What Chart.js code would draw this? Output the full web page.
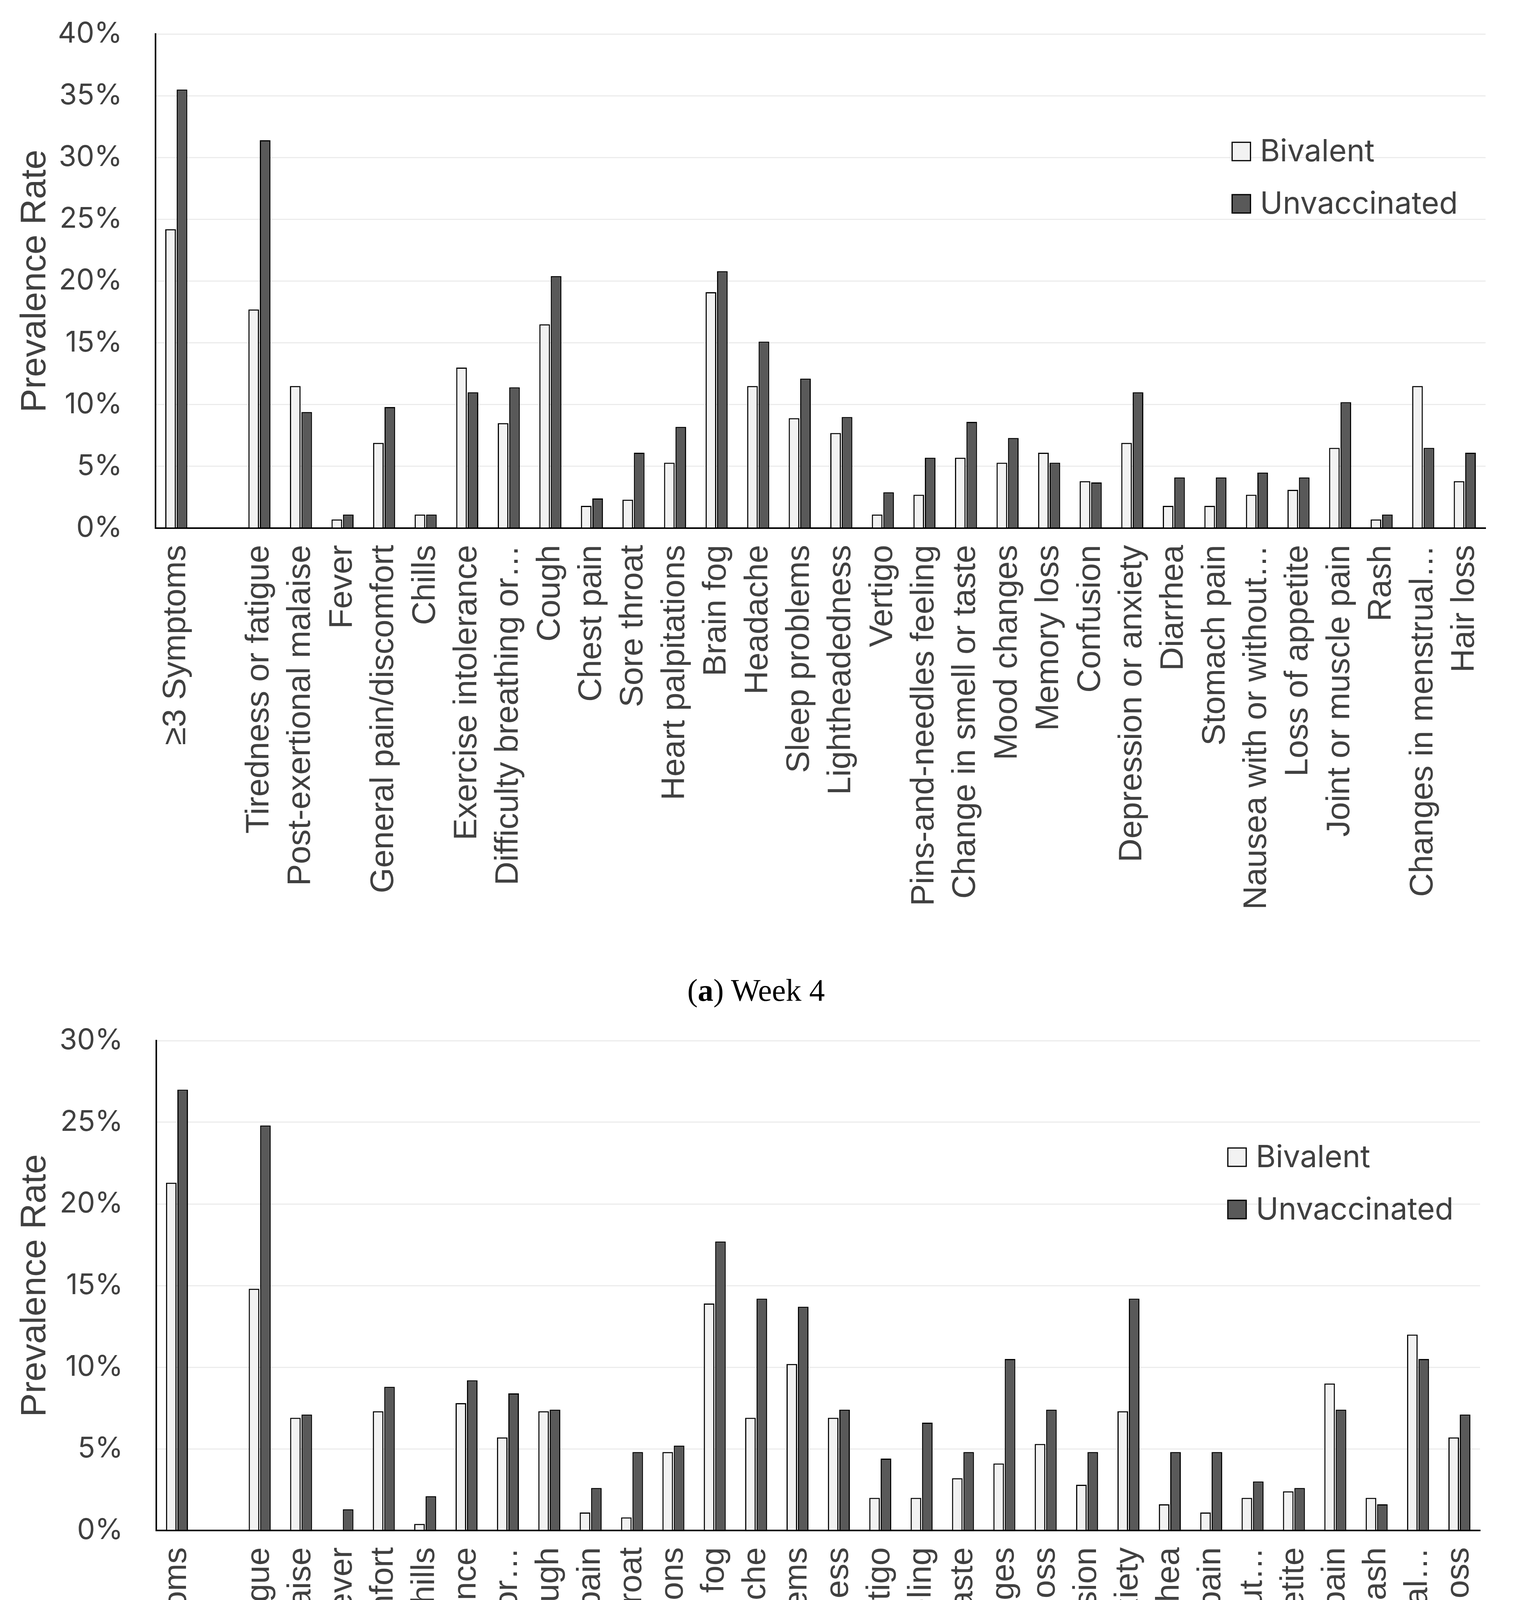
<!DOCTYPE html>
<html>
<head>
<meta charset="utf-8">
<title>Prevalence Rate - Bivalent x Unvaccinated</title>
<script src="https://cdn.jsdelivr.net/npm/chart.js@4.4.0/dist/chart.umd.min.js"></script>
<style>
    html, body { margin: 0; padding: 0; background: #ffffff; }
    body { width: 3885px; height: 5160px; position: relative; overflow: hidden; }
    .painel { position: absolute; left: 0; width: 3885px; height: 2420px; }
    #painel-a { top: 0; }
    #painel-b { top: 2580px; }
    .legenda-fig {
        position: absolute; left: 0; width: 3870px; text-align: center;
        font-family: "Liberation Serif", "DejaVu Serif", serif; font-size: 80px; line-height: 80px; color: #000;
        z-index: 2;
    }
</style>
</head>
<body>

<div class="painel" id="painel-a"><canvas id="grafico-semana4"></canvas></div>
<div class="legenda-fig" style="top: 2495px;">(<b>a</b>) Week 4</div>

<div class="painel" id="painel-b"><canvas id="grafico-mes3"></canvas></div>
<div class="legenda-fig" style="top: 5047px;">(<b>b</b>) Month 3</div>

<script>
// Categorias (a segunda posição fica vazia, como no original)
const sintomas = [
    '≥3 Symptoms', '', 'Tiredness or fatigue', 'Post-exertional malaise', 'Fever',
    'General pain/discomfort', 'Chills', 'Exercise intolerance', 'Difficulty breathing or…',
    'Cough', 'Chest pain', 'Sore throat', 'Heart palpitations', 'Brain fog', 'Headache',
    'Sleep problems', 'Lightheadedness', 'Vertigo', 'Pins-and-needles feeling',
    'Change in smell or taste', 'Mood changes', 'Memory loss', 'Confusion',
    'Depression or anxiety', 'Diarrhea', 'Stomach pain', 'Nausea with or without…',
    'Loss of appetite', 'Joint or muscle pain', 'Rash', 'Changes in menstrual…', 'Hair loss'
];

const nomesSeries = ['Bivalent', 'Unvaccinated'];

// Semana 4 (%)
const bivalenteSemana4 = [24.2, null, 17.7, 11.5, 0.7, 6.9, 1.1, 13.0, 8.5, 16.5, 1.8, 2.3, 5.3, 19.1, 11.5, 8.9,
    7.7, 1.1, 2.7, 5.7, 5.3, 6.1, 3.8, 6.9, 1.8, 1.8, 2.7, 3.1, 6.5, 0.7, 11.5, 3.8];
const naoVacinadoSemana4 = [35.5, null, 31.4, 9.4, 1.1, 9.8, 1.1, 11.0, 11.4, 20.4, 2.4, 6.1, 8.2, 20.8, 15.1, 12.1,
    9.0, 2.9, 5.7, 8.6, 7.3, 5.3, 3.7, 11.0, 4.1, 4.1, 4.5, 4.1, 10.2, 1.1, 6.5, 6.1];

// Mês 3 (%)
const bivalenteMes3 = [21.3, null, 14.8, 6.9, 0, 7.3, 0.4, 7.8, 5.7, 7.3, 1.1, 0.8, 4.8, 13.9, 6.9, 10.2,
    6.9, 2.0, 2.0, 3.2, 4.1, 5.3, 2.8, 7.3, 1.6, 1.1, 2.0, 2.4, 9.0, 2.0, 12.0, 5.7];
const naoVacinadoMes3 = [27.0, null, 24.8, 7.1, 1.3, 8.8, 2.1, 9.2, 8.4, 7.4, 2.6, 4.8, 5.2, 17.7, 14.2, 13.7,
    7.4, 4.4, 6.6, 4.8, 10.5, 7.4, 4.8, 14.2, 4.8, 4.8, 3.0, 2.6, 7.4, 1.6, 10.5, 7.1];

// Escalas do eixo Y
const maxSemana4 = 40;
const maxMes3 = 30;
const passoY = 5;

let chartsInstances = {};

// Legenda desenhada dentro da área do gráfico (canto superior direito)
const legendaInterna = {
    id: 'legendaInterna',
    afterDraw(chart, args, opts) {
        const { ctx, chartArea } = chart;
        const x = chartArea.left + chartArea.width * opts.posX;
        let y = chartArea.top + chartArea.height * opts.posY;
        ctx.save();
        ctx.font = opts.fonte;
        ctx.textBaseline = 'middle';
        ctx.textAlign = 'left';
        chart.data.datasets.forEach(ds => {
            ctx.fillStyle = ds.backgroundColor;
            ctx.fillRect(x, y, opts.caixa, opts.caixa);
            ctx.lineWidth = 3;
            ctx.strokeStyle = ds.borderColor;
            ctx.strokeRect(x + 1.5, y + 1.5, opts.caixa - 3, opts.caixa - 3);
            ctx.fillStyle = opts.cor;
            ctx.fillText(ds.label, x + opts.caixa + opts.espaco, y + opts.caixa / 2 + 2);
            y += opts.entreLinhas;
        });
        ctx.restore();
    }
};

function criarGrafico(id, chave, bivalente, naoVacinado, maxY, geo) {
    const ctx = document.getElementById(id).getContext('2d');

    if (chartsInstances[chave]) {
        chartsInstances[chave].destroy();
    }

    chartsInstances[chave] = new Chart(ctx, {
        type: 'bar',
        data: {
            labels: sintomas,
            datasets: [{
                label: nomesSeries[0],
                data: bivalente,
                backgroundColor: '#f2f2f2',
                borderColor: '#000000',
                borderWidth: 3
            }, {
                label: nomesSeries[1],
                data: naoVacinado,
                backgroundColor: '#595959',
                borderColor: '#000000',
                borderWidth: 3
            }]
        },
        options: {
            responsive: true,
            maintainAspectRatio: false,
            devicePixelRatio: 1,
            animation: false,
            categoryPercentage: 0.55,
            barPercentage: 0.93,
            layout: {
                padding: { top: geo.topo, right: geo.direita, left: 0, bottom: 0 }
            },
            plugins: {
                legend: { display: false },
                tooltip: { enabled: false },
                legendaInterna: {
                    posX: 0.809,
                    posY: 0.218,
                    caixa: 50,
                    espaco: 23,
                    entreLinhas: 134,
                    fonte: '78px Inter, "Liberation Sans", sans-serif',
                    cor: '#404040'
                }
            },
            scales: {
                x: {
                    grid: { display: false, drawTicks: false },
                    border: { display: true, color: '#000000', width: 4 },
                    ticks: {
                        autoSkip: false,
                        minRotation: 90,
                        maxRotation: 90,
                        padding: 43,
                        color: '#404040',
                        font: { family: '"Liberation Sans", Arial, sans-serif', size: 84 }
                    },
                    afterFit: function(scale) {
                        scale.height = geo.alturaEixoX;
                        scale.paddingLeft = 0;
                        scale.paddingRight = 0;
                    }
                },
                y: {
                    min: 0,
                    max: maxY,
                    grid: { color: '#ececec', lineWidth: 3, drawTicks: false },
                    border: { display: true, color: '#000000', width: 4 },
                    ticks: {
                        stepSize: passoY,
                        padding: 85,
                        color: '#404040',
                        font: { family: 'Inter, "Liberation Sans", sans-serif', size: 73 },
                        callback: function(valor) {
                            return valor + '%';
                        }
                    },
                    title: {
                        display: true,
                        text: 'Prevalence Rate',
                        color: '#404040',
                        padding: { top: 36, bottom: 0 },
                        font: { family: '"Liberation Sans", Arial, sans-serif', size: 91 }
                    },
                    afterFit: function(scale) {
                        scale.width = geo.eixoEsquerdo;
                        // sem folga extra acima/abaixo: a área fica onde o layout manda
                        scale.paddingTop = 0;
                        scale.paddingBottom = 0;
                    }
                }
            }
        },
        plugins: [legendaInterna]
    });
}

criarGrafico('grafico-semana4', 'semana4', bivalenteSemana4, naoVacinadoSemana4, maxSemana4,
    { topo: 87, direita: 83, eixoEsquerdo: 398, alturaEixoX: 2420 - 1352 });

criarGrafico('grafico-mes3', 'mes3', bivalenteMes3, naoVacinadoMes3, maxMes3,
    { topo: 84, direita: 97, eixoEsquerdo: 400, alturaEixoX: 2420 - 1338 });
</script>
</body>
</html>
